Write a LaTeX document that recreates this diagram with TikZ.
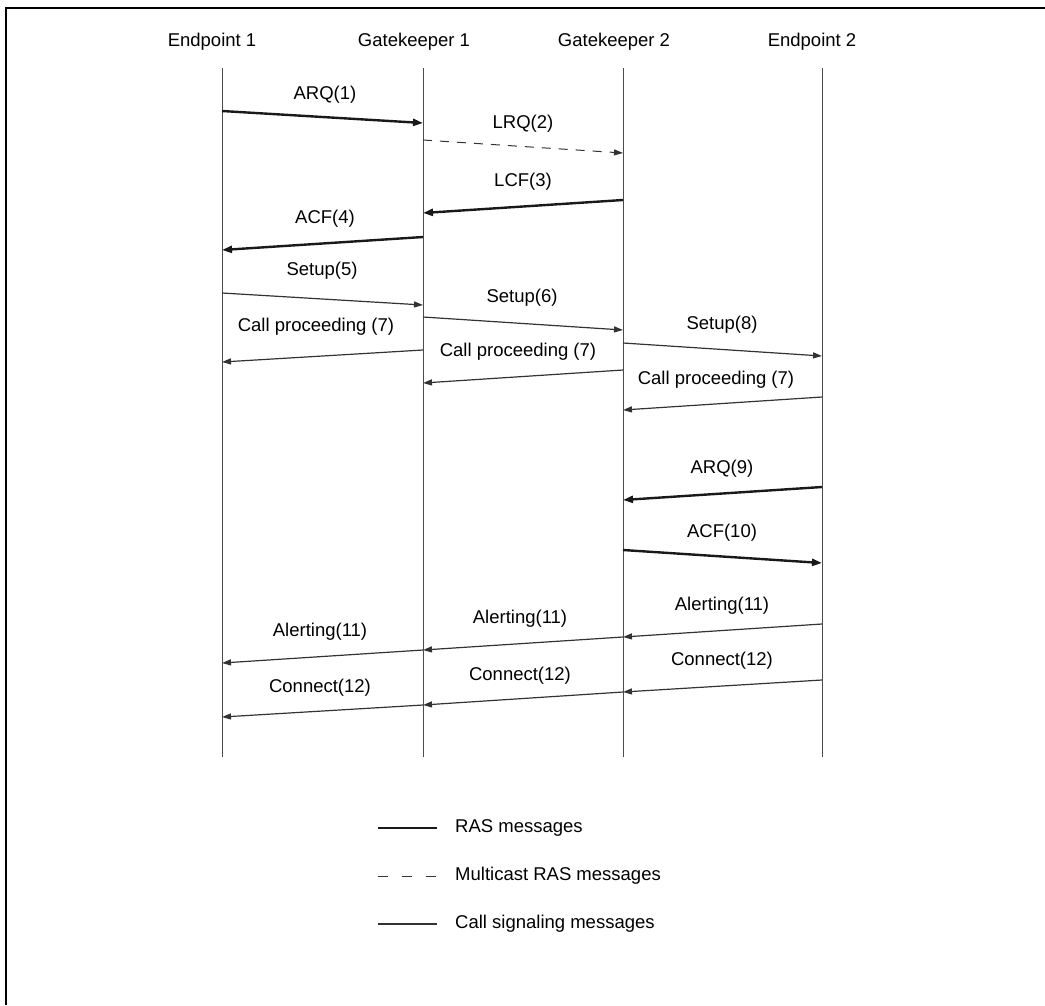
\documentclass[tikz,border=0pt]{standalone}
\usepackage{fontspec}
\setmainfont{Liberation Sans}
\usetikzlibrary{arrows.meta}
\begin{document}
\begin{tikzpicture}[x=1pt,y=-1pt,
  lbl/.style={font=\fontsize{18.5}{22}\selectfont, inner sep=0pt, anchor=center},
  life/.style={line width=1pt, draw=black!70},
  ras/.style={line width=2.4pt, draw=black!90, -{Triangle[length=10pt,width=7pt]}},
  mras/.style={line width=1pt, draw=black!80, dash pattern=on 9pt off 8pt, -{Triangle[length=9pt,width=6pt]}},
  sig/.style={line width=1.2pt, draw=black!80, -{Triangle[length=9pt,width=6pt]}},
  legras/.style={line width=2.4pt, draw=black!90},
  legmras/.style={line width=1pt, draw=black!80, dash pattern=on 10pt off 14pt},
  legsig/.style={line width=1.2pt, draw=black!80}]
\useasboundingbox (0,0) rectangle (1045,1005);
% frame
\draw[line width=2.5pt] (6,1005) -- (6,7.3);
\draw[line width=1.5pt] (5,8) -- (1045,8);
% headers
\node[lbl] (h1) at (212,42) {Endpoint 1};
\node[lbl] (h2) at (414,42) {Gatekeeper 1};
\node[lbl] (h3) at (614,42) {Gatekeeper 2};
\node[lbl] (h4) at (812,42) {Endpoint 2};
% lifelines
\coordinate (l1t) at (222,68); \coordinate (l1b) at (222,757);
\coordinate (l2t) at (423,68); \coordinate (l2b) at (423,757);
\coordinate (l3t) at (623,68); \coordinate (l3b) at (623,757);
\coordinate (l4t) at (822,68); \coordinate (l4b) at (822,757);
\draw[life] (l1t) -- (l1b);
\draw[life] (l2t) -- (l2b);
\draw[life] (l3t) -- (l3b);
\draw[life] (l4t) -- (l4b);
% messages
\coordinate (m1a) at (222,111); \coordinate (m1b) at (423,123);
\draw[ras] (m1a) -- (m1b);
\node[lbl] (t1) at (325,95) {ARQ(1)};
\coordinate (m2a) at (423,140); \coordinate (m2b) at (623,153);
\draw[mras] (m2a) -- (m2b);
\node[lbl] (t2) at (523,124) {LRQ(2)};
\coordinate (m3a) at (623,200); \coordinate (m3b) at (423,213);
\draw[ras] (m3a) -- (m3b);
\node[lbl] (t3) at (523,182) {LCF(3)};
\coordinate (m4a) at (423,237); \coordinate (m4b) at (222,250);
\draw[ras] (m4a) -- (m4b);
\node[lbl] (t4) at (325,219) {ACF(4)};
\coordinate (m5a) at (222,293); \coordinate (m5b) at (423,305);
\draw[sig] (m5a) -- (m5b);
\node[lbl] (t5) at (322,271) {Setup(5)};
\coordinate (m6a) at (423,317); \coordinate (m6b) at (623,330);
\draw[sig] (m6a) -- (m6b);
\node[lbl] (t6) at (522,298) {Setup(6)};
\coordinate (m7a) at (623,343); \coordinate (m7b) at (822,356);
\draw[sig] (m7a) -- (m7b);
\node[lbl] (t7) at (722,325) {Setup(8)};
\coordinate (m8a) at (423,350); \coordinate (m8b) at (222,362);
\draw[sig] (m8a) -- (m8b);
\node[lbl] (t8) at (316,327) {Call proceeding (7)};
\coordinate (m9a) at (623,370); \coordinate (m9b) at (423,383);
\draw[sig] (m9a) -- (m9b);
\node[lbl] (t9) at (518,352) {Call proceeding (7)};
\coordinate (m10a) at (822,397); \coordinate (m10b) at (623,410);
\draw[sig] (m10a) -- (m10b);
\node[lbl] (t10) at (716,380) {Call proceeding (7)};
\coordinate (m11a) at (822,487); \coordinate (m11b) at (623,500);
\draw[ras] (m11a) -- (m11b);
\node[lbl] (t11) at (722,469) {ARQ(9)};
\coordinate (m12a) at (623,550); \coordinate (m12b) at (822,563);
\draw[ras] (m12a) -- (m12b);
\node[lbl] (t12) at (722,533) {ACF(10)};
\coordinate (m13a) at (822,624); \coordinate (m13b) at (623,637);
\draw[sig] (m13a) -- (m13b);
\node[lbl] (t13) at (722,606) {Alerting(11)};
\coordinate (m14a) at (623,637); \coordinate (m14b) at (423,650);
\draw[sig] (m14a) -- (m14b);
\node[lbl] (t14) at (520,619) {Alerting(11)};
\coordinate (m15a) at (423,650); \coordinate (m15b) at (222,663);
\draw[sig] (m15a) -- (m15b);
\node[lbl] (t15) at (320,632) {Alerting(11)};
\coordinate (m16a) at (822,680); \coordinate (m16b) at (623,692);
\draw[sig] (m16a) -- (m16b);
\node[lbl] (t16) at (722,661) {Connect(12)};
\coordinate (m17a) at (623,692); \coordinate (m17b) at (423,705);
\draw[sig] (m17a) -- (m17b);
\node[lbl] (t17) at (520,676) {Connect(12)};
\coordinate (m18a) at (423,705); \coordinate (m18b) at (222,717);
\draw[sig] (m18a) -- (m18b);
\node[lbl] (t18) at (320,688) {Connect(12)};
% legend
\coordinate (g1a) at (378,828); \coordinate (g1b) at (437,828);
\draw[legras] (g1a) -- (g1b);
\node[lbl, anchor=west] (k1) at (455,828) {RAS messages};
\coordinate (g2a) at (378,876); \coordinate (g2b) at (437,876);
\draw[legmras] (g2a) -- (g2b);
\node[lbl, anchor=west] (k2) at (455,876) {Multicast RAS messages};
\coordinate (g3a) at (378,924); \coordinate (g3b) at (437,924);
\draw[legsig] (g3a) -- (g3b);
\node[lbl, anchor=west] (k3) at (455,924) {Call signaling messages};
\end{tikzpicture}
\end{document}
